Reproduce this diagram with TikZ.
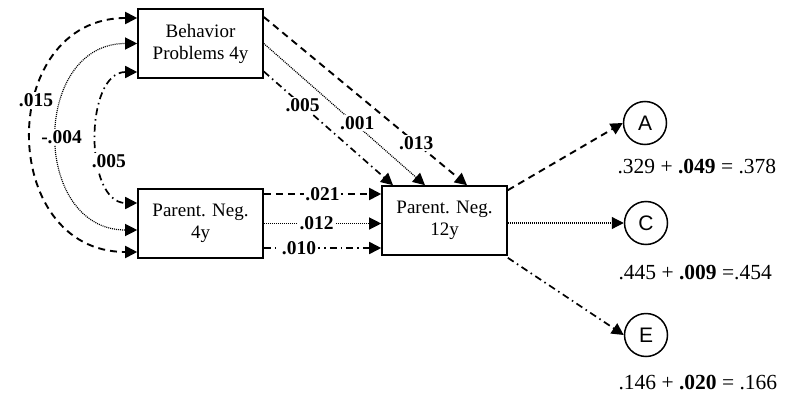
\documentclass[tikz,border=0pt]{standalone}
\usepackage{fontspec}
\setmainfont{Liberation Serif}
\newfontfamily\circfont{Liberation Sans}
\usetikzlibrary{arrows.meta, positioning, shapes.geometric}

\begin{document}
\begin{tikzpicture}[x=1pt, y=-1pt,
    >={Triangle[length=12pt,width=12pt]},
    box/.style={draw, line width=1.6pt, minimum width=125pt, minimum height=69pt, align=center, font=\fontsize{19}{22}\selectfont},
    factor/.style={circle, draw, line width=1.5pt, minimum size=43pt, inner sep=0pt, font=\circfont\fontsize{21}{22}\selectfont},
    coef/.style={fill=white, inner sep=1.5pt, font=\bfseries\fontsize{19.5}{22}\selectfont},
    share/.style={font=\fontsize{21.5}{24}\selectfont},
    dashline/.style={line width=1.9pt, dash pattern=on 7pt off 5pt},
    dotline/.style={line width=1.2pt, dash pattern=on 1pt off 1pt},
    dashdotline/.style={line width=1.7pt, dash pattern=on 7pt off 4pt on 1.5pt off 4pt}]
    \useasboundingbox (0,0) rectangle (799,393);

    % observed variables
    \node[box] (bp4) at (200.5,43.5) {Behavior\\Problems 4y};
    \node[box] (pn4) at (200.5,223.5) {Parent. Neg.\\4y};
    \node[box] (pn12) at (444.5,220.5) {Parent. Neg.\\12y};

    % ACE factors and their shares
    \node[factor] (A) at (645,123) {A};
    \node[factor] (C) at (646,223) {C};
    \node[factor] (E) at (646,335) {E};
    \node[share, anchor=west] (Ares) at (614,167) {.329 + \textbf{.049} = .378};
    \node[share, anchor=west] (Cres) at (615,272) {.445 + \textbf{.009} =.454};
    \node[share, anchor=west] (Eres) at (615,382) {.146 + \textbf{.020} = .166};

    % covariances at 4y
    \draw[dashline, <->] ([yshift=25.5pt]bp4.west) to[out=180, in=180, looseness=1.54]
        node[coef, pos=0.4] {.015} ([yshift=-28.5pt]pn4.west);
    \draw[dotline, <->] (bp4.west) to[out=180, in=180, looseness=1.46]
        node[coef, pos=0.5, xshift=4pt] {-.004} ([yshift=-6.5pt]pn4.west);
    \draw[dashdotline, <->] ([yshift=-28.5pt]bp4.west) to[out=180, in=180, looseness=1.04]
        node[coef, pos=0.625, xshift=9pt] {.005} ([yshift=20.5pt]pn4.west);

    % paths to 12y
    \draw[dashline, ->] ([yshift=26.5pt]bp4.east) -- node[coef, pos=0.75] {.013} ([xshift=22.5pt]pn12.north);
    \draw[dotline, ->] (bp4.east) -- node[coef, pos=0.58, yshift=3pt] {.001} ([xshift=-19.5pt]pn12.north);
    \draw[dashdotline, ->] ([yshift=-28pt]bp4.east) -- node[coef, pos=0.3] {.005} ([xshift=-51.5pt]pn12.north);

    \draw[dashline, ->] ([yshift=29.5pt]pn4.east) -- node[coef, pos=0.5] {.021} ([yshift=29.5pt]pn4.east -| pn12.west);
    \draw[dotline, ->] (pn4.east) -- node[coef, pos=0.45] {.012} (pn4.east -| pn12.west);
    \draw[dashdotline, ->] ([yshift=-24.5pt]pn4.east) -- node[coef, pos=0.3] {.010} ([yshift=-24.5pt]pn4.east -| pn12.west);

    % 12y to factors
    \draw[dashline, ->] ([yshift=-5pt]pn12.north east) -- (A.west);
    \draw[dotline, ->] (pn12.east |- C.west) -- (C.west);
    \draw[dashdotline, ->] ([yshift=-2pt]pn12.south east) -- (E.west);
\end{tikzpicture}
\end{document}
